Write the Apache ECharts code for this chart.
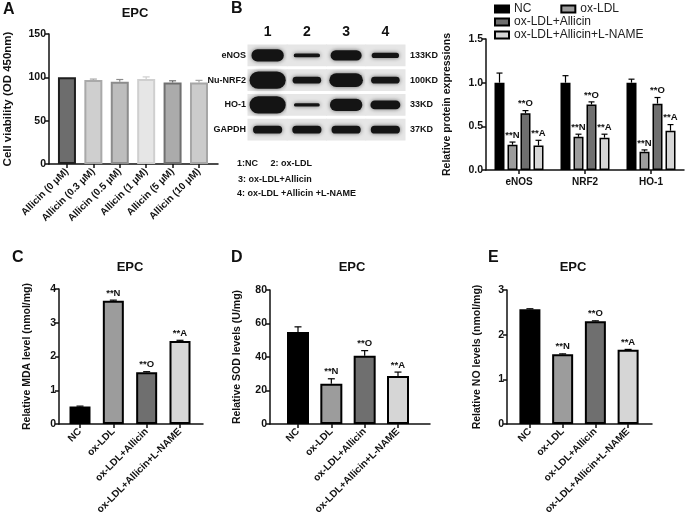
<!DOCTYPE html>
<html><head><meta charset="utf-8">
<script src="https://cdn.jsdelivr.net/npm/echarts@6/dist/echarts.min.js"></script>
<style>html,body{margin:0;padding:0;background:#fff}#c{width:685px;height:524px}</style>
</head><body><div id="c"></div>
<script>
// ---------- Panel A data ----------
const aCategories = ['Allicin (0 μM)','Allicin (0.3 μM)','Allicin (0.5 μM)','Allicin (1 μM)','Allicin (5 μM)','Allicin (10 μM)'];
const aValues = [100, 97, 95, 98, 94, 94];
const aErrors = [0, 1, 2.5, 2.5, 2, 2.5];
// ---------- Panel B (quantification) ----------
const bProteins = ['eNOS','NRF2','HO-1'];
const bGroups = ['NC','ox-LDL','ox-LDL+Allicin','ox-LDL+Allicin+L-NAME'];
const bNC = [1.0, 1.0, 1.0];
const bNCErr = [0.11, 0.08, 0.04];
const bOxLDL = [0.29, 0.38, 0.21];
const bOxLDLErr = [0.03, 0.03, 0.02];
const bAllicin = [0.65, 0.75, 0.76];
const bAllicinErr = [0.03, 0.03, 0.07];
const bLNAME = [0.28, 0.37, 0.45];
const bLNAMEErr = [0.06, 0.04, 0.07];
const sigMarks = ['', '**N', '**O', '**A'];
// ---------- Panel B (western blot) ----------
const blotLanes = ['1','2','3','4'];
const blotRows = ['eNOS','Nu-NRF2','HO-1','GAPDH'];
const blotKD = ['133KD','100KD','33KD','37KD'];
const bandENOS = [0.7, 0.22, 0.6, 0.3];
const bandNRF2 = [1.0, 0.4, 0.8, 0.4];
const bandHO1 = [1.0, 0.18, 0.7, 0.5];
const bandGAPDH = [0.45, 0.45, 0.45, 0.45];
const laneKey = ['1:NC     2: ox-LDL', '3: ox-LDL+Allicin', '4: ox-LDL +Allicin +L-NAME'];
// ---------- Panels C, D, E ----------
const groupCats = ['NC','ox-LDL','ox-LDL+Allicin','ox-LDL+Allicin+L-NAME'];
const mdaValues = [0.52, 3.65, 1.53, 2.46];
const mdaErrors = [0.01, 0.02, 0.02, 0.02];
const sodValues = [55, 24, 40.8, 28.7];
const sodErrors = [3, 3, 3, 2.3];
const noValues = [2.57, 1.56, 2.30, 1.66];
const noErrors = [0.01, 0.01, 0.01, 0.01];

// ---------- styles ----------
const FONT = 'Liberation Sans, Arial, sans-serif';
const aFill = ['#6d6d6d','#cfcfcf','#bdbdbd','#e6e6e6','#ababab','#cbcbcb'];
const aBorder = ['#1e1e1e','#a9a9a9','#8c8c8c','#cfcfcf','#707070','#a6a6a6'];
const groupFill = ['#000000','#9c9c9c','#6f6f6f','#d6d6d6'];

const chart = echarts.init(document.getElementById('c'), null, {renderer:'canvas'});

function yAxisCfg(grid, min, max, interval, name, gap, fmt) {
  return {
    type:'value', gridIndex:grid, min, max, interval, name, nameLocation:'middle', nameGap:gap, nameRotate:90,
    nameTextStyle:{fontFamily:FONT, fontWeight:'bold', fontSize:10.5, color:'#111'},
    axisLine:{show:true, onZero:false, lineStyle:{color:'#111', width:1.5}},
    axisTick:{show:true, length:4, lineStyle:{color:'#111', width:1.5}},
    axisLabel:{fontFamily:FONT, fontWeight:'bold', fontSize:10.5, color:'#111', margin:3, formatter: fmt},
    splitLine:{show:false}
  };
}
function xValueAxis(grid, min, max, cats) {
  const idx = cats.map((c,i)=>i);
  return {
    type:'value', gridIndex:grid, min, max,
    axisLine:{show:true, onZero:false, lineStyle:{color:'#111', width:1.5}},
    axisTick:{show:true, length:4, customValues: idx, lineStyle:{color:'#111', width:1.5}},
    axisLabel:{customValues: idx, rotate:45, fontFamily:FONT, fontWeight:'bold', fontSize:10, color:'#111', margin:6,
      formatter: v => cats[Math.round(v)] || ''},
    splitLine:{show:false}
  };
}
function errSeries(xi, yi, xs, vals, errs, labels, colors, offset, capW) {
  return {
    type:'custom', xAxisIndex:xi, yAxisIndex:yi, z:5, silent:true,
    data: vals.map((v,i)=>[xs[i], v, errs[i]]),
    renderItem(params, api) {
      const x = api.value(0), v = api.value(1), e = api.value(2);
      const p0 = api.coord([x, v]); const p1 = api.coord([x, v + e]);
      const cx = p0[0] + offset;
      const col = Array.isArray(colors) ? colors[params.dataIndex] : colors;
      const ch = [];
      if (e > 0) {
        ch.push({type:'line', shape:{x1:cx, y1:p0[1], x2:cx, y2:p1[1]}, style:{stroke:col, lineWidth:1.2}});
        ch.push({type:'line', shape:{x1:cx-capW/2, y1:p1[1], x2:cx+capW/2, y2:p1[1]}, style:{stroke:col, lineWidth:1.2}});
      }
      const lab = labels ? labels[params.dataIndex] : '';
      if (lab) {
        ch.push({type:'text', x:cx, y:p1[1]-2, style:{text:lab, textAlign:'center', textVerticalAlign:'bottom',
          font:'bold 9.5px ' + FONT, fill:'#111'}});
      }
      return {type:'group', children:ch};
    }
  };
}
function barSeries(xi, yi, vals, fills, borders, bw, border) {
  return {
    type:'bar', xAxisIndex:xi, yAxisIndex:yi, barWidth:bw, silent:true,
    data: vals.map((v,i)=>({value:[i, v], itemStyle:{color:fills[i], borderColor:borders[i], borderWidth:border}}))
  };
}

const idx4 = [0,1,2,3];
const idx6 = [0,1,2,3,4,5];
const blk4 = ['#000','#000','#000','#000'];

const bSets = [[bNC,bNCErr],[bOxLDL,bOxLDLErr],[bAllicin,bAllicinErr],[bLNAME,bLNAMEErr]];
const bBarSeries = bSets.map((s,k)=>({
  type:'bar', name:bGroups[k], xAxisIndex:1, yAxisIndex:1, barWidth:10, barGap:'30%', silent:true,
  itemStyle:{color:groupFill[k], borderColor:'#000', borderWidth:1.5},
  data:s[0]
}));
const bErrSeries = bSets.map((s,k)=>errSeries(1, 1, [0,1,2], s[0], s[1], [sigMarks[k],sigMarks[k],sigMarks[k]], '#000', (k-1.5)*13, 6));

const blotData = [];
[bandENOS, bandNRF2, bandHO1, bandGAPDH].forEach((row, r)=>row.forEach((s, l)=>blotData.push([l, r, s])));

const legendBase = {icon:'rect', itemWidth:14, itemHeight:7, padding:0, itemGap:29,
  textStyle:{fontFamily:FONT, fontSize:12, color:'#222'}, selectedMode:false};

const txt = (t, x, y, size, align) => ({type:'text', x, y, style:{text:t, font:'bold '+size+'px '+FONT, fill:'#111',
  textAlign: align || 'left', textVerticalAlign:'middle'}});

chart.setOption({
  animation:false,
  backgroundColor:'#fff',
  grid:[
    {left:49, top:34, width:169, height:130},
    {left:486, top:39, width:198, height:131},
    {left:59, top:289, width:144, height:135},
    {left:270, top:290, width:160, height:134},
    {left:507, top:290, width:145, height:134},
    {left:248, top:43, width:157, height:99}
  ],
  legend:[
    Object.assign({}, legendBase, {left:494, top:3, data:['NC','ox-LDL']}),
    Object.assign({}, legendBase, {left:494, top:16, data:['ox-LDL+Allicin']}),
    Object.assign({}, legendBase, {left:494, top:29, data:['ox-LDL+Allicin+L-NAME']})
  ],
  xAxis:[
    xValueAxis(0, -0.68, 5.72, aCategories),
    {type:'category', gridIndex:1, data:bProteins,
      axisLine:{show:true, lineStyle:{color:'#111', width:1.5}},
      axisTick:{show:true, alignWithLabel:true, length:4, lineStyle:{color:'#111', width:1.5}},
      axisLabel:{fontFamily:FONT, fontWeight:'bold', fontSize:10, color:'#111', margin:7}},
    xValueAxis(2, -0.63, 3.69, groupCats),
    xValueAxis(3, -0.84, 3.96, groupCats),
    xValueAxis(4, -0.70, 3.73, groupCats),
    {type:'category', gridIndex:5, data:blotLanes, position:'top',
      axisLine:{show:false}, axisTick:{show:false},
      axisLabel:{fontFamily:FONT, fontWeight:'bold', fontSize:14, color:'#111', margin:4}}
  ],
  yAxis:[
    Object.assign(yAxisCfg(0, 0, 150, 50, 'Cell viability (OD 450nm)', 35), {nameTextStyle:{fontFamily:FONT, fontWeight:'bold', fontSize:11.5, color:'#111'}}),
    yAxisCfg(1, 0, 1.5, 0.5, 'Relative protein expressions', 33, v=>v.toFixed(1)),
    yAxisCfg(2, 0, 4, 1, 'Relative MDA level (nmol/mg)', 26),
    yAxisCfg(3, 0, 80, 20, 'Relative SOD levels (U/mg)', 27),
    yAxisCfg(4, 0, 3, 1, 'Relative NO levels (nmol/mg)', 24),
    {type:'category', gridIndex:5, data:blotRows, inverse:true, position:'left',
      axisLine:{show:false}, axisTick:{show:false},
      axisLabel:{fontFamily:FONT, fontWeight:'bold', fontSize:9, color:'#111', margin:2}},
    {type:'category', gridIndex:5, data:blotKD, inverse:true, position:'right',
      axisLine:{show:false}, axisTick:{show:false},
      axisLabel:{fontFamily:FONT, fontWeight:'bold', fontSize:9, color:'#111', margin:5}}
  ],
  series:[
    barSeries(0, 0, aValues, aFill, aBorder, 18, 2),
    errSeries(0, 0, idx6, aValues, aErrors, null, aBorder, 0, 7),
    ...bBarSeries,
    ...bErrSeries,
    barSeries(2, 2, mdaValues, groupFill, blk4, 21, 2),
    errSeries(2, 2, idx4, mdaValues, mdaErrors, sigMarks, '#000', 0, 7),
    barSeries(3, 3, sodValues, groupFill, blk4, 22, 2),
    errSeries(3, 3, idx4, sodValues, sodErrors, sigMarks, '#000', 0, 7),
    barSeries(4, 4, noValues, groupFill, blk4, 21, 2),
    errSeries(4, 4, idx4, noValues, noErrors, sigMarks, '#000', 0, 7),
    {
      type:'custom', xAxisIndex:5, yAxisIndex:5, silent:true, data:blotData,
      renderItem(params, api) {
        const c = api.coord([api.value(0), api.value(1)]);
        const sz = api.size([1, 1]);
        const cw = sz[0], rh = sz[1], s = api.value(2);
        const w = cw * (0.6 + 0.32 * s), h = Math.max(3, rh * 0.7 * s);
        return {type:'group', children:[
          {type:'rect', shape:{x:c[0]-cw/2-0.5, y:c[1]-rh/2+1.5, width:cw+1, height:rh-3}, style:{fill:'#e6e6e6'}},
          {type:'rect', shape:{x:c[0]-w/2, y:c[1]-h/2, width:w, height:h, r:h/2},
            style:{fill:'#141414', shadowBlur:4, shadowColor:'rgba(0,0,0,0.55)'}}
        ]};
      }
    }
  ],
  graphic:[
    txt('A', 3, 10, 16), txt('B', 231, 9, 16), txt('C', 12, 258, 16), txt('D', 231, 258, 16), txt('E', 488, 258, 16),
    txt('EPC', 135, 13, 13, 'center'), txt('EPC', 130, 267, 13, 'center'),
    txt('EPC', 352, 267, 13, 'center'), txt('EPC', 573, 267, 13, 'center'),
    txt(laneKey[0], 237, 164, 9), txt(laneKey[1], 238, 180, 9), txt(laneKey[2], 237, 194, 9)
  ]
});
</script></body></html>
